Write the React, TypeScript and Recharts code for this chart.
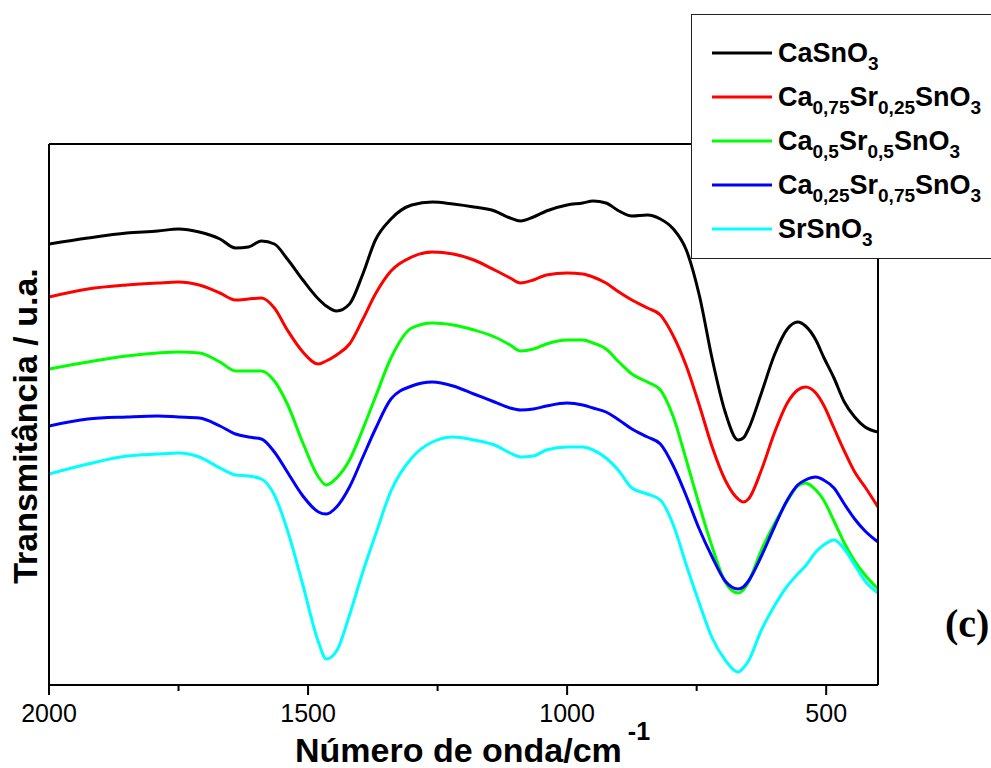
import { LineChart, Line, XAxis, YAxis, Legend } from "recharts";

// wavenumber grid (cm-1)
const wavenumbers = [
  2000, 1925, 1850, 1790, 1750, 1710, 1670, 1640, 1615, 1590, 1565, 1540, 1510, 1480,
  1465, 1445, 1420, 1395, 1370, 1340, 1300, 1260, 1220, 1180, 1140, 1110, 1090, 1065,
  1040, 1000, 970, 950, 925, 900, 875, 845, 820, 795, 770, 745, 720, 695, 670, 660, 650,
  625, 600, 575, 555, 540, 520, 505, 485, 465, 445, 425, 400,
];

// transmittance, arbitrary units (curves are offset)
const caSnO3 = [
  441, 447, 452, 454, 456, 453, 446, 437, 438, 444, 441, 426, 405, 386, 379, 374, 381, 410,
  445, 466, 480, 483, 481, 478, 474, 467, 464, 468, 474, 480, 482, 484, 482, 474, 469, 470,
  466, 456, 435, 390, 326, 273, 245, 247, 256, 292, 330, 356, 363, 359, 345, 328, 307, 283,
  268, 258, 253,
];
const ca75sr25 = [
  388, 396, 400, 402, 403, 400, 392, 385, 386, 387, 377, 355, 333, 321, 324, 330, 341, 365,
  391, 414, 428, 433, 431, 425, 415, 407, 402, 405, 410, 412, 411, 408, 402, 393, 385, 377,
  370, 349, 319, 280, 238, 205, 186, 183, 186, 215, 252, 282, 295, 298, 292, 280, 257, 234,
  213, 198, 178,
];
const ca50sr50 = [
  316, 323, 329, 332, 333, 332, 323, 314, 314, 314, 304, 281, 242, 208, 200, 207, 225, 255,
  288, 327, 357, 362, 360, 355, 348, 340, 334, 336, 341, 345, 345, 342, 336, 323, 311, 303,
  295, 268, 225, 180, 138, 103, 92, 95, 103, 135, 161, 184, 199, 202, 195, 185, 164, 142,
  124, 110, 96,
];
const ca25sr75 = [
  259, 266, 268, 269, 268, 267, 259, 251, 248, 246, 233, 213, 189, 173, 171, 178, 198, 227,
  256, 286, 299, 303, 299, 291, 283, 277, 275, 276, 279, 282, 280, 277, 273, 265, 256, 248,
  241, 219, 189, 156, 128, 104, 96, 98, 104, 129, 158, 185, 200, 205, 208, 205, 197, 181,
  166, 154, 143,
];
const srSnO3 = [
  211, 221, 229, 231, 232, 228, 217, 210, 209, 206, 190, 155, 100, 43, 26, 34, 70, 112,
  150, 194, 227, 243, 248, 245, 240, 232, 228, 229, 235, 238, 238, 235, 227, 214, 197, 191,
  185, 160, 120, 82, 47, 25, 13, 17, 24, 55, 79, 99, 111, 119, 133, 140, 145, 136, 120,
  104, 92,
];

const xTicks = [2000, 1750, 1500, 1250, 1000, 750, 500];
const yTicks = [30, 120, 210, 300, 390, 480];

// label parts: [text, isSubscript]
const series = [
  { key: "s1", color: "#000000", values: caSnO3, label: [["CaSnO", false], ["3", true]] },
  {
    key: "s2",
    color: "#ff0000",
    values: ca75sr25,
    label: [["Ca", false], ["0,75", true], ["Sr", false], ["0,25", true], ["SnO", false], ["3", true]],
  },
  {
    key: "s3",
    color: "#00ff00",
    values: ca50sr50,
    label: [["Ca", false], ["0,5", true], ["Sr", false], ["0,5", true], ["SnO", false], ["3", true]],
  },
  {
    key: "s4",
    color: "#0000ff",
    values: ca25sr75,
    label: [["Ca", false], ["0,25", true], ["Sr", false], ["0,75", true], ["SnO", false], ["3", true]],
  },
  { key: "s5", color: "#00ffff", values: srSnO3, label: [["SrSnO", false], ["3", true]] },
] as const;

const data = wavenumbers.map((wn, i) => {
  const row: Record<string, number> = { wn };
  series.forEach((s) => (row[s.key] = s.values[i]));
  return row;
});

const FONT = "'Liberation Sans', Arial, sans-serif";
const frame = { stroke: "#000", strokeWidth: 2 };
const innerTick = { stroke: "#000", strokeWidth: 1.5 };

function BottomTick({ x, y, payload }: any) {
  const major = payload.value % 500 === 0;
  return (
    <g>
      <line x1={x} x2={x} y1={y} y2={y + (major ? 10 : 6)} stroke="#000" strokeWidth={2} />
      {major && (
        <text x={x} y={y + 37} textAnchor="middle" fontSize={25} fontFamily={FONT} fill="#000">
          {payload.value}
        </text>
      )}
    </g>
  );
}

function LegendBox() {
  return (
    <div
      style={{
        width: 302,
        height: 245,
        boxSizing: "border-box",
        border: "1.5px solid #222",
        background: "#fff",
      }}
    >
      <svg width={300} height={243}>
        {series.map((s, i) => {
          const y = 38 + i * 44;
          let sub = false;
          return (
            <g key={s.key}>
              <line x1={20} x2={80} y1={y} y2={y} stroke={s.color} strokeWidth={3} />
              <text x={86} y={y + 9} fontFamily={FONT} fontWeight="bold" fontSize={27} fill="#000">
                {s.label.map(([t, isSub], j) => {
                  const dy = isSub && !sub ? 8 : !isSub && sub ? -8 : 0;
                  sub = isSub as boolean;
                  return (
                    <tspan key={j} dy={dy} fontSize={isSub ? 19 : 27}>
                      {t}
                    </tspan>
                  );
                })}
              </text>
            </g>
          );
        })}
      </svg>
    </div>
  );
}

export default function App() {
  return (
    <div
      style={{
        position: "absolute",
        left: 0,
        top: 0,
        width: 991,
        height: 768,
        overflow: "hidden",
        background: "#fff",
      }}
    >
      <LineChart
        width={991}
        height={768}
        data={data}
        margin={{ top: 144, right: 113, bottom: 43, left: 49 }}
      >
        <XAxis
          dataKey="wn"
          type="number"
          domain={[400, 2000]}
          reversed
          ticks={xTicks}
          interval={0}
          height={40}
          tickSize={0}
          tickMargin={0}
          tickLine={false}
          tick={<BottomTick />}
          axisLine={frame}
          allowDataOverflow
        />
        <XAxis
          xAxisId="top"
          orientation="top"
          dataKey="wn"
          type="number"
          domain={[400, 2000]}
          reversed
          ticks={xTicks}
          interval={0}
          height={1}
          mirror
          tickSize={4}
          tick={false}
          tickLine={innerTick}
          axisLine={frame}
          allowDataOverflow
        />
        <YAxis
          type="number"
          domain={[0, 541]}
          ticks={yTicks}
          interval={0}
          width={1}
          mirror
          tickSize={4}
          tick={false}
          tickLine={innerTick}
          axisLine={frame}
          allowDataOverflow
        />
        <YAxis
          yAxisId="right"
          orientation="right"
          type="number"
          domain={[0, 541]}
          ticks={yTicks}
          interval={0}
          width={1}
          mirror
          tickSize={4}
          tick={false}
          tickLine={innerTick}
          axisLine={frame}
          allowDataOverflow
        />
        {series.map((s) => (
          <Line
            key={s.key}
            type="monotone"
            dataKey={s.key}
            stroke={s.color}
            strokeWidth={3}
            dot={false}
            isAnimationActive={false}
          />
        ))}
        <Legend
          verticalAlign="middle"
          align="center"
          content={() => <LegendBox />}
          wrapperStyle={{ position: "absolute", left: 691, top: 14, width: 302, height: 245 }}
        />
      </LineChart>
      <svg
        width={991}
        height={768}
        style={{ position: "absolute", left: 0, top: 0, pointerEvents: "none" }}
      >
        <text x={295} y={762} fontFamily={FONT} fontWeight="bold" fontSize={34} fill="#000">
          Número de onda/cm
          <tspan dx={6} dy={-22} fontSize={25}>
            -1
          </tspan>
        </text>
        <text
          transform="translate(37,426) rotate(-90)"
          textAnchor="middle"
          fontFamily={FONT}
          fontWeight="bold"
          fontSize={34}
          fill="#000"
        >
          Transmitância / u.a.
        </text>
        <text
          x={945}
          y={637}
          fontFamily="'Liberation Serif', 'Times New Roman', serif"
          fontWeight="bold"
          fontSize={40}
          fill="#000"
        >
          (c)
        </text>
      </svg>
    </div>
  );
}
